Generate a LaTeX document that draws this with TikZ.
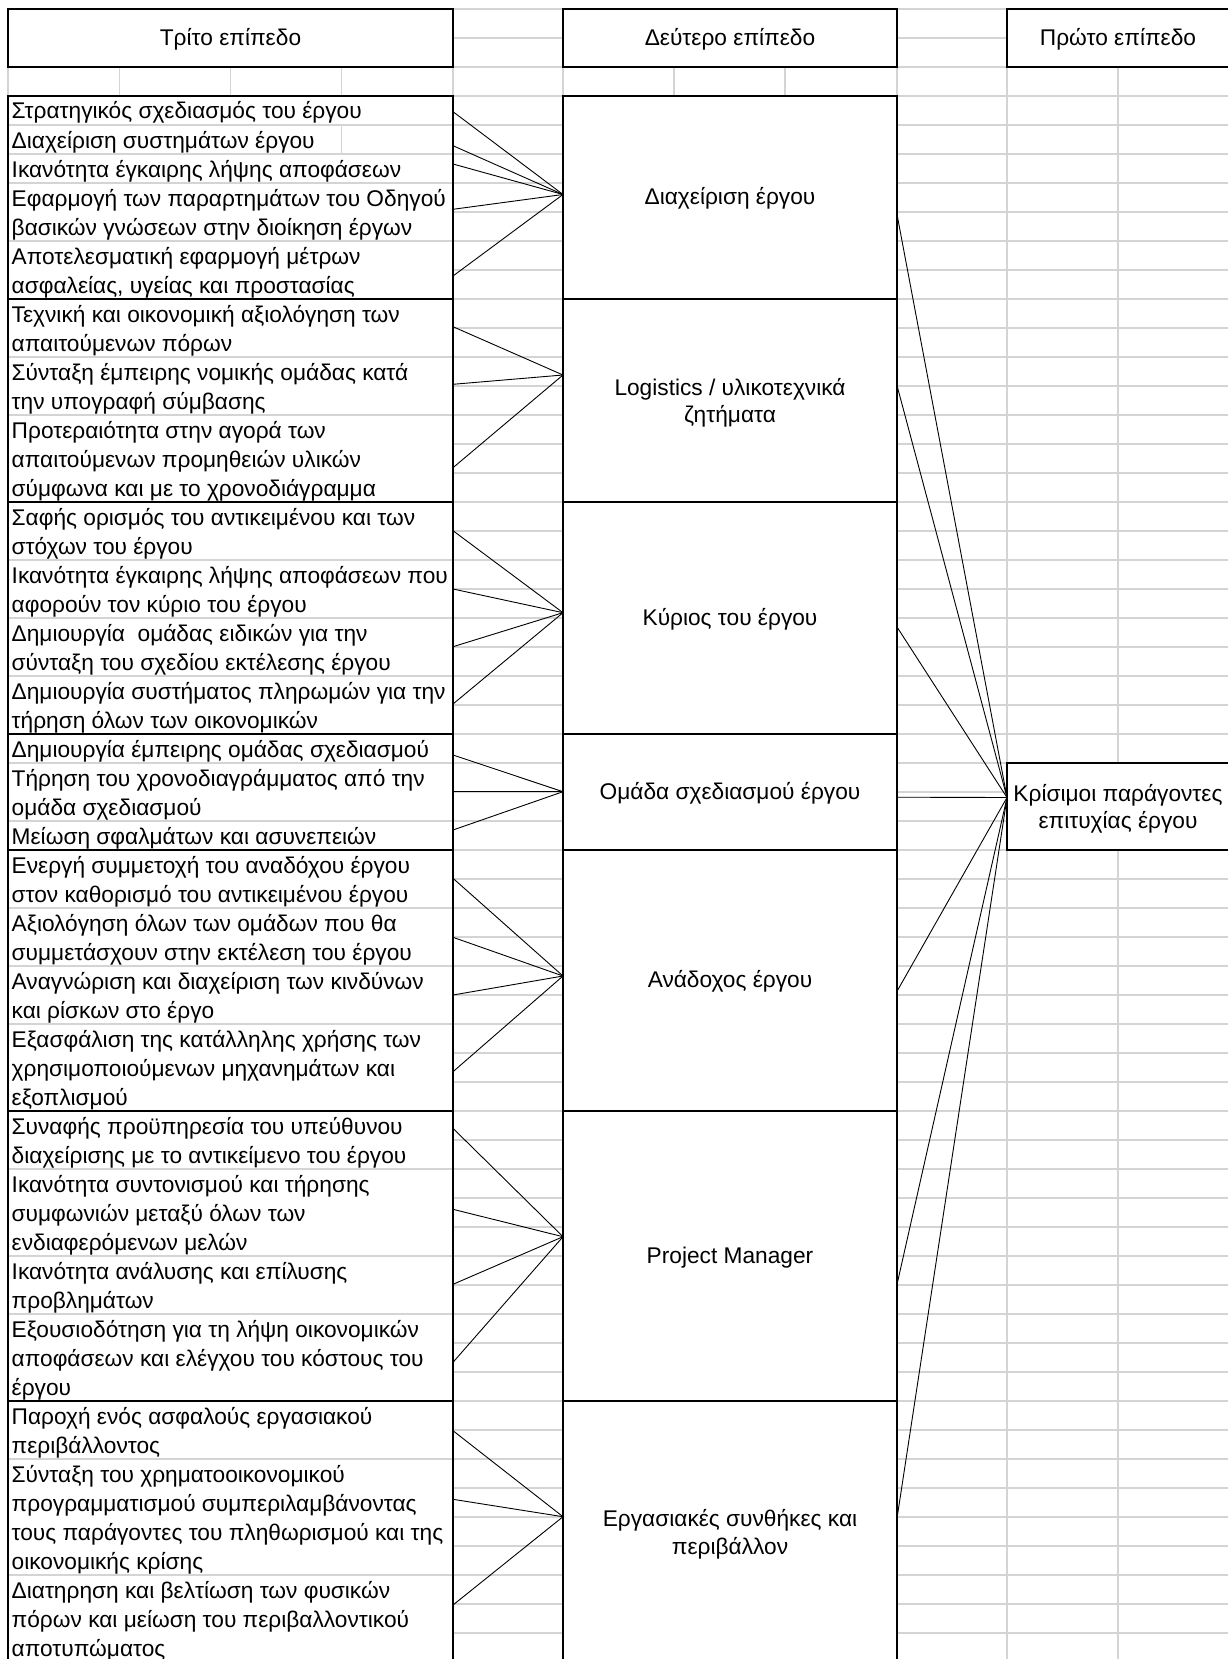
\documentclass[tikz,border=0pt]{standalone}
\usepackage{fontspec}
\setmainfont{Liberation Sans}
\definecolor{gridc}{RGB}{212,212,212}
\newcommand\myfs{\fontsize{22.7}{29}\selectfont}
\newcommand\lline[2]{\node[lt] (t#1) at (11.5,{95.8+29*#1+23.2}) {#2};}
\begin{document}
\begin{tikzpicture}[x=1pt,y=-1pt,
  gridline/.style={draw=gridc,line width=1.5pt},
  frame/.style={draw=black,line width=2pt,fill=white,inner sep=0pt},
  conn/.style={draw=black,line width=0.9pt},
  lt/.style={anchor=base west,inner sep=0pt,font=\myfs},
  ct/.style={anchor=base,inner sep=0pt,font=\myfs},
]
\useasboundingbox (0,0) rectangle (1228,1659);
\clip (0,0) rectangle (1228,1659);
\fill[white] (0,0) rectangle (1228,1659);
% spreadsheet grid
\foreach \k in {0,...,57} \draw[gridline] (8,{8.8+29*\k}) -- (1232,{8.8+29*\k});
\foreach \x in {8,119.5,230.6,341.6,453,563,674,785,897,1007,1118} \draw[gridline] (\x,8.8) -- (\x,1665);
% header boxes
\node[frame, minimum width=445pt, minimum height=58pt] (h3) at (230.5,37.8) {};
\node[frame, minimum width=334pt, minimum height=58pt] (h2) at (730,37.8) {};
\node[frame, minimum width=226pt, minimum height=58pt] (h1) at (1120,37.8) {};
\node[ct] (h3t) at (230.5,45.5) {Τρίτο επίπεδο};
\node[ct] (h2t) at (730,45.5) {Δεύτερο επίπεδο};
\node[ct] (h1t) at (1118,45.5) {Πρώτο επίπεδο};
% left group boxes
\node[frame, minimum width=445pt, minimum height=203pt] (g1) at (230.5,197.3) {};
\node[frame, minimum width=445pt, minimum height=203pt] (g2) at (230.5,400.3) {};
\node[frame, minimum width=445pt, minimum height=232pt] (g3) at (230.5,617.8) {};
\node[frame, minimum width=445pt, minimum height=116pt] (g4) at (230.5,791.8) {};
\node[frame, minimum width=445pt, minimum height=261pt] (g5) at (230.5,980.3) {};
\node[frame, minimum width=445pt, minimum height=290pt] (g6) at (230.5,1255.8) {};
\node[frame, minimum width=445pt, minimum height=261pt] (g7) at (230.5,1531.3) {};
% middle boxes
\node[frame, minimum width=334pt, minimum height=203pt] (m1) at (730,197.3) {};
\node[frame, minimum width=334pt, minimum height=203pt] (m2) at (730,400.3) {};
\node[frame, minimum width=334pt, minimum height=232pt] (m3) at (730,617.8) {};
\node[frame, minimum width=334pt, minimum height=116pt] (m4) at (730,791.8) {};
\node[frame, minimum width=334pt, minimum height=261pt] (m5) at (730,980.3) {};
\node[frame, minimum width=334pt, minimum height=290pt] (m6) at (730,1255.8) {};
\node[frame, minimum width=334pt, minimum height=261pt] (m7) at (730,1531.3) {};
% right box
\node[frame, minimum width=226pt, minimum height=87pt] (kp) at (1120,806.3) {};
% item separators in the left column
\foreach \k in {1,2,3,5,9,11,16,18,20,23,25,28,30,32,37,40,42,47,51}
  \draw[gridline] (9,{95.8+29*\k}) -- (452,{95.8+29*\k});
\draw[gridline] (341.6,124.8) -- (341.6,153.8);
% middle texts
\node[ct] (m1t) at (730,204.8) {Διαχείριση έργου};
\node[ct] (m2a) at (730,395.7) {Logistics / υλικοτεχνικά};
\node[ct] (m2b) at (730,422.7) {ζητήματα};
\node[ct] (m3t) at (730,625.3) {Κύριος του έργου};
\node[ct] (m4t) at (730,799.3) {Ομάδα σχεδιασμού έργου};
\node[ct] (m5t) at (730,987.8) {Ανάδοχος έργου};
\node[ct] (m6t) at (730,1263.3) {Project Manager};
\node[ct] (m7a) at (730,1526.7) {Εργασιακές συνθήκες και};
\node[ct] (m7b) at (730,1554) {περιβάλλον};
\node[ct] (kpa) at (1118,801.7) {Κρίσιμοι παράγοντες};
\node[ct] (kpb) at (1118,828.3) {επιτυχίας έργου};
% left texts
\lline{0}{Στρατηγικός σχεδιασμός του έργου}
\lline{1}{Διαχείριση συστημάτων έργου}
\lline{2}{Ικανότητα έγκαιρης λήψης αποφάσεων}
\lline{3}{Εφαρμογή των παραρτημάτων του Οδηγού}
\lline{4}{βασικών γνώσεων στην διοίκηση έργων}
\lline{5}{Αποτελεσματική εφαρμογή μέτρων}
\lline{6}{ασφαλείας, υγείας και προστασίας}
\lline{7}{Τεχνική και οικονομική αξιολόγηση των}
\lline{8}{απαιτούμενων πόρων}
\lline{9}{Σύνταξη έμπειρης νομικής ομάδας κατά}
\lline{10}{την υπογραφή σύμβασης}
\lline{11}{Προτεραιότητα στην αγορά των}
\lline{12}{απαιτούμενων προμηθειών υλικών}
\lline{13}{σύμφωνα και με το χρονοδιάγραμμα}
\lline{14}{Σαφής ορισμός του αντικειμένου και των}
\lline{15}{στόχων του έργου}
\lline{16}{Ικανότητα έγκαιρης λήψης αποφάσεων που}
\lline{17}{αφορούν τον κύριο του έργου}
\lline{18}{Δημιουργία\ \ ομάδας ειδικών για την}
\lline{19}{σύνταξη του σχεδίου εκτέλεσης έργου}
\lline{20}{Δημιουργία συστήματος πληρωμών για την}
\lline{21}{τήρηση όλων των οικονομικών}
\lline{22}{Δημιουργία έμπειρης ομάδας σχεδιασμού}
\lline{23}{Τήρηση του χρονοδιαγράμματος από την}
\lline{24}{ομάδα σχεδιασμού}
\lline{25}{Μείωση σφαλμάτων και ασυνεπειών}
\lline{26}{Ενεργή συμμετοχή του αναδόχου έργου}
\lline{27}{στον καθορισμό του αντικειμένου έργου}
\lline{28}{Αξιολόγηση όλων των ομάδων που θα}
\lline{29}{συμμετάσχουν στην εκτέλεση του έργου}
\lline{30}{Αναγνώριση και διαχείριση των κινδύνων}
\lline{31}{και ρίσκων στο έργο}
\lline{32}{Εξασφάλιση της κατάλληλης χρήσης των}
\lline{33}{χρησιμοποιούμενων μηχανημάτων και}
\lline{34}{εξοπλισμού}
\lline{35}{Συναφής προϋπηρεσία του υπεύθυνου}
\lline{36}{διαχείρισης με το αντικείμενο του έργου}
\lline{37}{Ικανότητα συντονισμού και τήρησης}
\lline{38}{συμφωνιών μεταξύ όλων των}
\lline{39}{ενδιαφερόμενων μελών}
\lline{40}{Ικανότητα ανάλυσης και επίλυσης}
\lline{41}{προβλημάτων}
\lline{42}{Εξουσιοδότηση για τη λήψη οικονομικών}
\lline{43}{αποφάσεων και ελέγχου του κόστους του}
\lline{44}{έργου}
\lline{45}{Παροχή ενός ασφαλούς εργασιακού}
\lline{46}{περιβάλλοντος}
\lline{47}{Σύνταξη του χρηματοοικονομικού}
\lline{48}{προγραμματισμού συμπεριλαμβάνοντας}
\lline{49}{τους παράγοντες του πληθωρισμού και της}
\lline{50}{οικονομικής κρίσης}
\lline{51}{Διατηρηση και βελτίωση των φυσικών}
\lline{52}{πόρων και μείωση του περιβαλλοντικού}
\lline{53}{αποτυπώματος}
% connectors: third level -> second level
\coordinate (m1in) at (563,194.5);
\coordinate (m2in) at (563,375);
\coordinate (m3in) at (563,612.7);
\coordinate (m4in) at (563,791.7);
\coordinate (m5in) at (563,976);
\coordinate (m6in) at (563,1236.7);
\coordinate (m7in) at (563,1516.7);
\foreach \y [count=\i] in {111.7,145.7,164,209.3,276} {\coordinate (a1\i) at (453,\y); \draw[conn] (a1\i) -- (m1in);}
\foreach \y [count=\i] in {326.7,384.3,467.7} {\coordinate (a2\i) at (453,\y); \draw[conn] (a2\i) -- (m2in);}
\foreach \y [count=\i] in {530.7,589,646.7,704} {\coordinate (a3\i) at (453,\y); \draw[conn] (a3\i) -- (m3in);}
\foreach \y [count=\i] in {755,791.7,830} {\coordinate (a4\i) at (453,\y); \draw[conn] (a4\i) -- (m4in);}
\foreach \y [count=\i] in {878.3,937.3,995,1071.7} {\coordinate (a5\i) at (453,\y); \draw[conn] (a5\i) -- (m5in);}
\foreach \y [count=\i] in {1128.3,1209.3,1284.3,1362.3} {\coordinate (a6\i) at (453,\y); \draw[conn] (a6\i) -- (m6in);}
\foreach \y [count=\i] in {1430.7,1499.3,1605} {\coordinate (a7\i) at (453,\y); \draw[conn] (a7\i) -- (m7in);}
% connectors: second level -> first level
\coordinate (kin) at (1007,797.5);
\foreach \y [count=\i] in {214.4,385.5,627,797.2,991.3,1284.4,1518.3} {\coordinate (r\i) at (897,\y); \draw[conn] (r\i) -- (kin);}
\end{tikzpicture}
\end{document}
